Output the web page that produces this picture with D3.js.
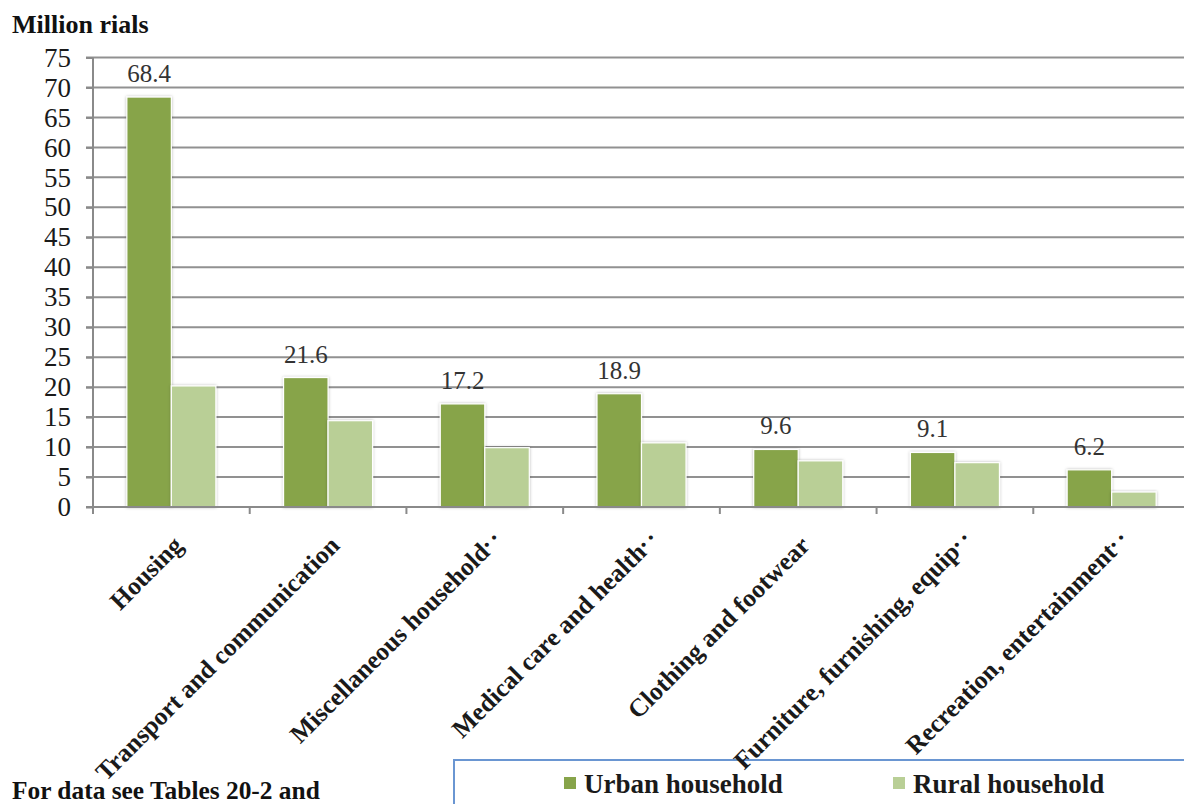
<!DOCTYPE html>
<html>
<head>
<meta charset="utf-8">
<script src="https://cdn.jsdelivr.net/npm/d3@7/dist/d3.min.js"></script>
<style>
  html, body { margin: 0; padding: 0; background: #fff; }
  svg { display: block; }
  text { font-family: "Liberation Serif", "Times New Roman", serif; }
</style>
</head>
<body>
<svg id="chart" width="1184" height="804"></svg>
<script>
const categories = [
  "Housing",
  "Transport and communication",
  "Miscellaneous household..",
  "Medical care and health..",
  "Clothing and footwear",
  "Furniture, furnishing, equip..",
  "Recreation, entertainment.."
];
const seriesNames = ["Urban household", "Rural household"];
const urbanValues = [68.4, 21.6, 17.2, 18.9, 9.6, 9.1, 6.2];
const ruralValues = [20.2, 14.4, 9.9, 10.7, 7.7, 7.4, 2.5];
const yTicks = [0, 5, 10, 15, 20, 25, 30, 35, 40, 45, 50, 55, 60, 65, 70, 75];
const colors = ["#87A44A", "#B9CF96"];
const yAxisTitle = "Million rials";
const footnote = "For data see Tables 20-2 and";

const svg = d3.select("#chart");
const W = 1184, H = 804;

const defs = svg.append("defs");
const f = defs.append("filter").attr("id", "shadow").attr("x", "-20%").attr("y", "-20%").attr("width", "140%").attr("height", "140%");
f.append("feDropShadow").attr("dx", 0).attr("dy", 0).attr("stdDeviation", 1.6)
  .attr("flood-color", "#000").attr("flood-opacity", 0.28);

const x0 = d3.scaleBand().domain(categories).range([93, 1190]).padding(0);
const x1 = d3.scaleBand().domain(seriesNames)
  .range([x0.bandwidth() * 0.216, x0.bandwidth() * 0.784]).padding(0);
const y = d3.scaleLinear().domain([0, 75]).range([507, 57.5]);

// gridlines
svg.append("g").selectAll("line").data(yTicks.filter(d => d > 0)).join("line")
  .attr("x1", 86).attr("x2", W)
  .attr("y1", d => y(d)).attr("y2", d => y(d))
  .attr("stroke", "#919191").attr("stroke-width", 2);

// bars
const rows = categories.map((c, i) => ({ cat: c, vals: [urbanValues[i], ruralValues[i]] }));
const groups = svg.append("g").selectAll("g").data(rows).join("g")
  .attr("transform", d => `translate(${x0(d.cat)},0)`);
groups.selectAll("rect").data(d => d.vals.map((v, j) => ({ s: seriesNames[j], v, j })))
  .join("rect")
  .attr("x", d => x1(d.s))
  .attr("y", d => y(d.v))
  .attr("width", x1.bandwidth())
  .attr("height", d => y(0) - y(d.v))
  .attr("fill", d => colors[d.j])
  .attr("stroke", "#fff").attr("stroke-width", 1.2)
  .attr("filter", "url(#shadow)");

// data labels (urban)
groups.append("text")
  .attr("x", x1(seriesNames[0]) + x1.bandwidth() / 2)
  .attr("y", d => y(d.vals[0]) - 15)
  .attr("text-anchor", "middle")
  .attr("font-size", 25)
  .attr("fill", "#333")
  .text(d => d.vals[0].toFixed(1));

// y axis
const yAxis = d3.axisLeft(y).tickValues(yTicks).tickSize(7).tickPadding(15).tickFormat(d3.format("d"));
const gy = svg.append("g").attr("transform", "translate(93,0)").call(yAxis);
gy.select(".domain").attr("stroke", "#8a8a8a").attr("stroke-width", 2).attr("d", `M0,${y(75)}V514`);
gy.selectAll(".tick line").attr("stroke", "#8a8a8a").attr("stroke-width", 2);
gy.selectAll(".tick text").attr("font-size", 27).attr("fill", "#1a1a1a")
  .attr("font-family", "Liberation Serif, Times New Roman, serif");

// x axis baseline and ticks at band boundaries
svg.append("line").attr("x1", 86).attr("x2", W).attr("y1", y(0)).attr("y2", y(0))
  .attr("stroke", "#8a8a8a").attr("stroke-width", 2);
svg.append("g").selectAll("line").data(categories.slice(1)).join("line")
  .attr("x1", d => x0(d)).attr("x2", d => x0(d))
  .attr("y1", y(0)).attr("y2", y(0) + 7)
  .attr("stroke", "#8a8a8a").attr("stroke-width", 2);

// legend box (drawn before labels so that labels stay on top)
svg.append("rect").attr("x", 454).attr("y", 760).attr("width", 800).attr("height", 80)
  .attr("fill", "#fff").attr("stroke", "#6A96D2").attr("stroke-width", 2);

// x labels
const xl = svg.append("g").selectAll("text").data(categories).join("text")
  .attr("transform", d => {
    const trunc = d.endsWith("..");
    const cx = x0(d) + x0.bandwidth() / 2 + 13 + (trunc ? 8 : 0);
    const cy = 547 - (trunc ? 8 : 0);
    return `translate(${cx},${cy}) rotate(-45)`;
  })
  .attr("text-anchor", "end")
  .attr("font-size", 25.5).attr("font-weight", "bold").attr("fill", "#1a1a1a");
xl.each(function(d) {
  const t = d3.select(this);
  if (d.endsWith("..")) {
    t.append("tspan").text(d.slice(0, -2));
    t.append("tspan").attr("dy", "-0.3em").attr("letter-spacing", "4px").text("..");
  } else {
    t.text(d);
  }
});

// title
svg.append("text").attr("x", 12).attr("y", 33)
  .attr("font-size", 26).attr("font-weight", "bold").attr("fill", "#111")
  .text(yAxisTitle);

// footnote
svg.append("text").attr("x", 12).attr("y", 799)
  .attr("font-size", 25.4).attr("font-weight", "bold").attr("fill", "#111")
  .text(footnote);

// legend items
const legendX = [564, 893];
const lg = svg.append("g").selectAll("g").data(seriesNames).join("g")
  .attr("transform", (d, i) => `translate(${legendX[i]},0)`);
lg.append("rect").attr("x", 0).attr("y", 777).attr("width", 12).attr("height", 12)
  .attr("fill", (d, i) => colors[i]);
lg.append("text").attr("x", 20).attr("y", 793)
  .attr("font-size", 27).attr("font-weight", "bold").attr("fill", "#1a1a1a")
  .text(d => d);
</script>
</body>
</html>
